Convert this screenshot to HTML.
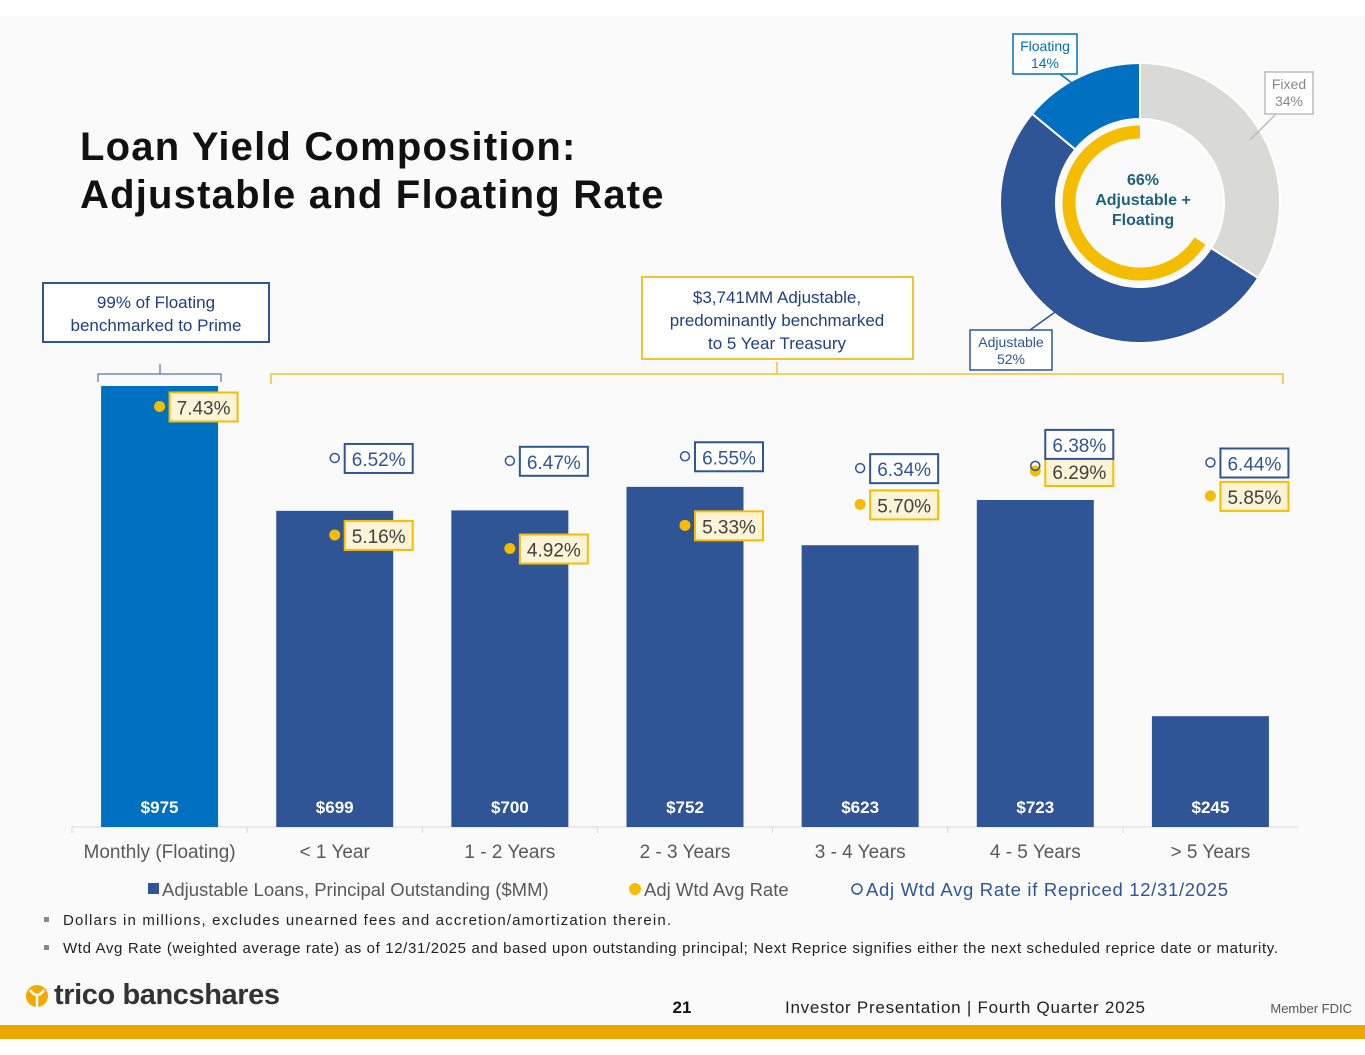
<!DOCTYPE html>
<html><head><meta charset="utf-8">
<style>
html,body{margin:0;padding:0;background:#fff;}
body{width:1365px;height:1055px;position:relative;overflow:hidden;font-family:"Liberation Sans",sans-serif;}
svg{position:absolute;left:0;top:0;}
</style></head>
<body>
<svg id="chart" width="1365" height="1055" xmlns="http://www.w3.org/2000/svg">
<rect x="0" y="0" width="1365" height="1055" fill="#ffffff"/>
<rect x="0" y="16" width="1365" height="1010" fill="#fafafb"/>
<text x="80" y="160" font-size="40" font-weight="900" fill="#111" letter-spacing="1.2">Loan Yield Composition:</text>
<text x="80" y="208" font-size="40" font-weight="900" fill="#111" letter-spacing="1.2">Adjustable and Floating Rate</text>
<g id="donut"></g>
<g id="bars"></g>
<g>
<rect x="43" y="283" width="226" height="59" fill="#fff" stroke="#2f5597" stroke-width="2"/>
<text x="156" y="308" font-size="17" fill="#1f3f7f" text-anchor="middle">99% of Floating</text>
<text x="156" y="331" font-size="17" fill="#1f3f7f" text-anchor="middle">benchmarked to Prime</text>
<path d="M98,382 L98,374 L160,374 L160,364 M160,374 L221,374 L221,382" fill="none" stroke="#2f5597" stroke-width="1"/>
</g>
<g>
<rect x="642" y="277" width="271" height="82" fill="#fff" stroke="#f2c232" stroke-width="2"/>
<text x="777" y="303" font-size="17" fill="#1f3f7f" text-anchor="middle">$3,741MM Adjustable,</text>
<text x="777" y="326" font-size="17" fill="#1f3f7f" text-anchor="middle">predominantly benchmarked</text>
<text x="777" y="349" font-size="17" fill="#1f3f7f" text-anchor="middle">to 5 Year Treasury</text>
<path d="M271,384 L271,374 L1283,374 L1283,384 M777,374 L777,362" fill="none" stroke="#f2c232" stroke-width="1.5"/>
</g>
<g>
<g><rect x="148" y="883" width="11" height="11" fill="#2f5597"/><text x="162" y="896" font-size="18.5" fill="#595959">Adjustable Loans, Principal Outstanding ($MM)</text></g>
<g><circle cx="635" cy="889" r="6" fill="#f5bd00"/><text x="644" y="896" font-size="18.5" fill="#595959">Adj Wtd Avg Rate</text></g>
<g><circle cx="857" cy="889" r="5" fill="none" stroke="#2f5597" stroke-width="1.5"/><text x="866" y="896" font-size="18.5" fill="#2f5597" textLength="362">Adj Wtd Avg Rate if Repriced 12/31/2025</text></g>
</g>
<g>
<rect x="44" y="917" width="5" height="5" fill="#888"/>
<text x="63" y="925" font-size="15" fill="#222" textLength="608">Dollars in millions, excludes unearned fees and accretion/amortization therein.</text>
<rect x="44" y="945" width="5" height="5" fill="#888"/>
<text x="63" y="953" font-size="15" fill="#222" textLength="1215">Wtd Avg Rate (weighted average rate) as of 12/31/2025 and based upon outstanding principal; Next Reprice signifies either the next scheduled reprice date or maturity.</text>
</g>
<g>
<g>
<circle cx="37" cy="996" r="11" fill="#f2a900"/>
<path d="M30,990 Q37,1000 44,990 M37,996 L37,1007" stroke="#fff" stroke-width="2.5" fill="none"/>
<text x="54" y="1004" font-size="29" font-weight="bold" fill="#333" textLength="226">trico bancshares</text>
</g>
<text x="682" y="1013" font-size="17" font-weight="bold" fill="#111" text-anchor="middle">21</text>
<text x="785" y="1013" font-size="17" fill="#222" textLength="360">Investor Presentation  |  Fourth Quarter 2025</text>
<text x="1352" y="1013" font-size="13" fill="#555" text-anchor="end">Member FDIC</text>
<rect x="0" y="1025" width="1365" height="14" fill="#eba800"/>
</g>
</svg>
<script>
const categories=["Monthly (Floating)","< 1 Year","1 - 2 Years","2 - 3 Years","3 - 4 Years","4 - 5 Years","> 5 Years"];
const loanValues=[975,699,700,752,623,723,245];
const loanLabels=["$975","$699","$700","$752","$623","$723","$245"];
const rateValues=[7.43,5.16,4.92,5.33,5.70,6.29,5.85];
const repricedValues=[null,6.52,6.47,6.55,6.34,6.38,6.44];
const donutLabels=["Fixed","Adjustable","Floating"];
const donutValues=[34,52,14];
const highlightShare=66;

const NS="http://www.w3.org/2000/svg";
function mk(tag,attrs,parent,text){const e=document.createElementNS(NS,tag);for(const k in attrs)e.setAttribute(k,attrs[k]);if(text!==undefined)e.textContent=text;parent.appendChild(e);return e;}
const base=827, axL=72, axR=1298;
const band=(axR-axL)/categories.length;
const xC=i=>axL+band*(i+0.5);
const yL=v=>base-v*(441/975);
const yR=v=>base-v*56.6;
const g=document.getElementById('bars');
const ax=mk('line',{x1:axL,y1:base,x2:axR,y2:base,stroke:'#d9d9d9','stroke-width':1},g);


categories.forEach((c,i)=>{
  const t=mk('line',{x1:axL+band*i,y1:base,x2:axL+band*i,y2:base+6,stroke:'#d9d9d9'},g);
  
  
  const bw=117;
  const r=mk('rect',{x:xC(i)-bw/2,y:yL(loanValues[i]),width:bw,height:base-yL(loanValues[i]),fill:i===0?'#0070c0':'#2f5597'},g);
  
  
  const vl=mk('text',{x:xC(i),y:base-14,'font-size':17,'font-weight':'bold',fill:'#fff','text-anchor':'middle'},g,loanLabels[i]);
  
  
  const cl=mk('text',{x:xC(i),y:base+31,'font-size':19,fill:'#595959','text-anchor':'middle'},g,c);
  
  
  const ry=yR(rateValues[i]);
  const d=mk('circle',{cx:xC(i),cy:ry,r:5.5,fill:'#f5bd00'},g);
  
  
  const rb=mk('rect',{x:xC(i)+10,y:ry-14,width:68,height:29,fill:'#fdf3d6',stroke:'#f5bd00','stroke-width':2},g);
  
  
  const rt=mk('text',{x:xC(i)+44,y:ry+8,'font-size':19,fill:'#404040','text-anchor':'middle'},g,rateValues[i].toFixed(2)+'%');
  
  
  if(repricedValues[i]!==null){
    const py=yR(repricedValues[i]);
    const pc=mk('circle',{cx:xC(i),cy:py,r:4.5,fill:'none',stroke:'#2f5597','stroke-width':1.5},g);
    
    
    const above=i===5;
    const bx=xC(i)+10, by=above?py-36:py-14;
    const pb=mk('rect',{x:bx,y:by,width:68,height:29,fill:'#fff',stroke:'#2f5597','stroke-width':2},g);
    
    
    const pt=mk('text',{x:bx+34,y:by+22,'font-size':19,fill:'#2f5597','text-anchor':'middle'},g,repricedValues[i].toFixed(2)+'%');
    
    
  }
});
const dg=document.getElementById('donut');
const cx=1140, cy=203, R=140, Ri=84;
const colors=['#d9d9d6','#2f5597','#0070c0'];
let acc=0;
const pt=(r,f)=>[cx+r*Math.sin(f*2*Math.PI), cy-r*Math.cos(f*2*Math.PI)];
donutValues.forEach((v,i)=>{
  const tot=donutValues.reduce((a,b)=>a+b,0);
  const a0=acc/tot, a1=(acc+v)/tot; acc+=v;
  const [x0,y0]=pt(R,a0),[x1,y1]=pt(R,a1),[x2,y2]=pt(Ri,a1),[x3,y3]=pt(Ri,a0);
  const lg=(a1-a0)>0.5?1:0;
  const p=mk('path',{d:`M${x0},${y0} A${R},${R} 0 ${lg} 1 ${x1},${y1} L${x2},${y2} A${Ri},${Ri} 0 ${lg} 0 ${x3},${y3} Z`,fill:colors[i],stroke:'#fff','stroke-width':2},dg);
  
  
});
{
  const r=71,f=highlightShare/100;
  const [x0,y0]=pt(r,0),[x1,y1]=pt(r,-f);
  const a=mk('path',{d:`M${x0},${y0} A${r},${r} 0 ${f>0.5?1:0} 0 ${x1},${y1}`,fill:'none',stroke:'#f5bd00','stroke-width':13},dg);
  
  
  const t1=mk('text',{x:cx+3,y:185,'font-size':16,'font-weight':'bold',fill:'#1f5f7f','text-anchor':'middle'},dg,highlightShare+'%');
  
  
  const t2=mk('text',{x:cx+3,y:205,'font-size':16,'font-weight':'bold',fill:'#1f5f7f','text-anchor':'middle'},dg,'Adjustable +');
  
  
  const t3=mk('text',{x:cx+3,y:225,'font-size':16,'font-weight':'bold',fill:'#1f5f7f','text-anchor':'middle'},dg,'Floating');
  
  
}
const calls=[
 {n:'fixed',x:1265,y:72,w:48,h:42,c:'#bbb',tc:'#888',l1:'Fixed',l2:'34%',lx:[1276,114,1250,140]},
 {n:'adjustable',x:970,y:330,w:82,h:40,c:'#2f5597',tc:'#2f5597',l1:'Adjustable',l2:'52%',lx:[1030,330,1065,305]},
 {n:'floating',x:1013,y:34,w:64,h:40,c:'#0070c0',tc:'#0070c0',l1:'Floating',l2:'14%',lx:[1060,74,1088,95]}
];
calls.forEach(k=>{
  const ln=mk('line',{x1:k.lx[0],y1:k.lx[1],x2:k.lx[2],y2:k.lx[3],stroke:k.c,'stroke-width':1.5},dg);
  
  
  const b=mk('rect',{x:k.x,y:k.y,width:k.w,height:k.h,fill:'#fff',stroke:k.c,'stroke-width':1.5},dg);
  
  
  const a=mk('text',{x:k.x+k.w/2,y:k.y+17,'font-size':14,fill:k.tc,'text-anchor':'middle'},dg,k.l1);
  
  
  const b2=mk('text',{x:k.x+k.w/2,y:k.y+34,'font-size':14,fill:k.tc,'text-anchor':'middle'},dg,k.l2);
  
  
});
</script>
</body></html>
